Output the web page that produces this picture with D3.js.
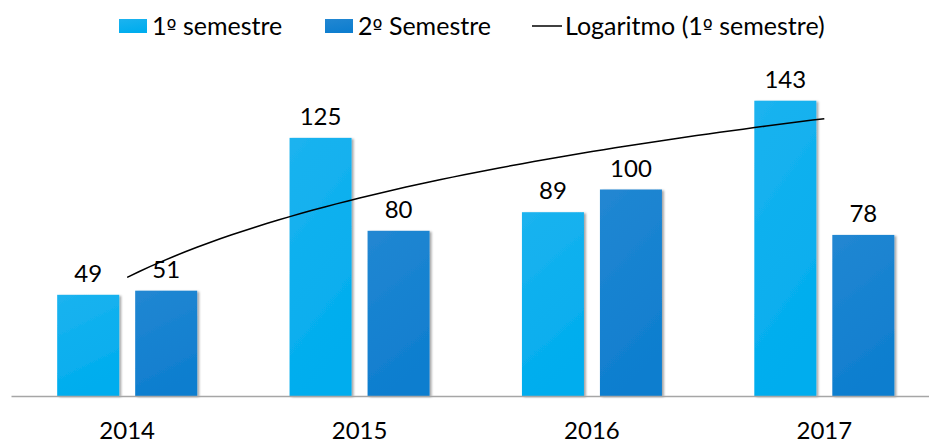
<!DOCTYPE html>
<html>
<head>
<meta charset="utf-8">
<script src="https://cdn.jsdelivr.net/npm/d3@7"></script>
<style>
  body { margin: 0; background: #fff; }
  text { font-family: Lato, "Open Sans", sans-serif; fill: #000; }
  .ord { font-family: "DejaVu Sans", sans-serif; font-size: 0.85em; }
</style>
</head>
<body>
<div id="chart"></div>
<script>
// data
const years = ["2014", "2015", "2016", "2017"];
const series = ["1º semestre", "2º Semestre"];
const sem1 = [49, 125, 89, 143];
const sem2 = [51, 80, 100, 78];
const trendLabel = "Logaritmo (1º semestre)";

const width = 929, height = 443;
const baseY = 396;

const svg = d3.select("#chart")
  .append("svg")
  .attr("width", width)
  .attr("height", height);

const defs = svg.append("defs");
const colors = [["#1cb3ef", "#00adee"], ["#2287d2", "#0e7ecf"]];
colors.forEach((c, i) => {
  const g = defs.append("linearGradient")
    .attr("id", "grad" + i)
    .attr("x1", 0).attr("y1", 0).attr("x2", 0.3).attr("y2", 1);
  g.append("stop").attr("offset", "0%").attr("stop-color", c[0]);
  g.append("stop").attr("offset", "100%").attr("stop-color", c[1]);
});
defs.append("filter").attr("id", "shadow")
  .attr("x", "-20%").attr("y", "-20%").attr("width", "150%").attr("height", "150%")
  .append("feDropShadow")
  .attr("dx", 2).attr("dy", 1).attr("stdDeviation", 1.2)
  .attr("flood-color", "#000").attr("flood-opacity", 0.35);

// write a label, putting the "º" in a font that draws it underlined
function ordText(sel, str) {
  str.split("º").forEach((part, i) => {
    if (i > 0) sel.append("tspan").attr("class", "ord").text("º");
    sel.append("tspan").text(part);
  });
}

const x0 = d3.scaleBand()
  .domain(years)
  .range([11, 940.5])
  .padding(0);

const x1 = d3.scaleBand()
  .domain(series)
  .range([0, 140])
  .paddingInner(0.205);

const y = d3.scaleLinear()
  .domain([0, 160])
  .range([baseY, baseY - 160 * 2.065]);

const center = d => x0(d) + x0.bandwidth() / 2;

const rows = years.map((yr, i) => ({ year: yr, vals: [sem1[i], sem2[i]] }));

// bars
const groups = svg.selectAll(".grp")
  .data(rows)
  .enter()
  .append("g")
  .attr("class", "grp")
  .attr("transform", d => `translate(${center(d.year) - 70},0)`);

groups.selectAll("rect")
  .data(d => d.vals.map((v, k) => ({ key: series[k], v: v, k: k })))
  .enter()
  .append("rect")
  .attr("x", d => x1(d.key))
  .attr("y", d => y(d.v))
  .attr("width", x1.bandwidth())
  .attr("height", d => baseY - y(d.v))
  .attr("fill", d => `url(#grad${d.k})`)
  .attr("filter", "url(#shadow)");

// axis
const xAxis = svg.append("g")
  .attr("transform", `translate(0,${baseY})`)
  .call(d3.axisBottom(x0).tickSize(0).tickPadding(26));
xAxis.select(".domain").attr("stroke", "#a6a6a6").attr("stroke-width", 1.3);
xAxis.selectAll("text")
  .style("font-family", "Lato, 'Open Sans', sans-serif")
  .style("font-size", "24px")
  .attr("fill", "#000");

// logarithmic trendline (least squares on ln x) for 1st semester
const lx = sem1.map((_, i) => Math.log(i + 1));
const mx = d3.mean(lx), my = d3.mean(sem1);
const b = d3.sum(lx, (l, i) => (l - mx) * (sem1[i] - my)) / d3.sum(lx, l => (l - mx) * (l - mx));
const a = my - b * mx;
const tx = d3.scaleLinear().domain([1, years.length]).range([center(years[0]), center(years[years.length - 1])]);
const trend = d3.range(1, years.length + 0.001, 0.05).map(t => [tx(t), y(a + b * Math.log(t))]);

svg.append("path")
  .datum(trend)
  .attr("fill", "none")
  .attr("stroke", "#000")
  .attr("stroke-width", 1.5)
  .attr("d", d3.line());

// value labels
groups.selectAll(".lbl")
  .data(d => d.vals.map((v, k) => ({ key: series[k], v: v })))
  .enter()
  .append("text")
  .attr("class", "lbl")
  .attr("x", d => x1(d.key) + x1.bandwidth() / 2)
  .attr("y", d => y(d.v) - 13)
  .attr("text-anchor", "middle")
  .style("font-size", "24px")
  .text(d => d.v);

// legend
const legend = svg.append("g");
const legX = [119, 325];
series.forEach((s, i) => {
  legend.append("rect")
    .attr("x", legX[i]).attr("y", 19)
    .attr("width", 28).attr("height", 14)
    .attr("fill", `url(#grad${i})`);
  legend.append("text")
    .attr("x", legX[i] + 33).attr("y", 35)
    .style("font-size", "25px")
    .call(ordText, s);
});
legend.append("line")
  .attr("x1", 532).attr("x2", 562)
  .attr("y1", 26).attr("y2", 26)
  .attr("stroke", "#000").attr("stroke-width", 1.5);
legend.append("text")
  .attr("x", 565).attr("y", 35)
  .style("font-size", "25px")
  .call(ordText, trendLabel);
</script>
</body>
</html>
